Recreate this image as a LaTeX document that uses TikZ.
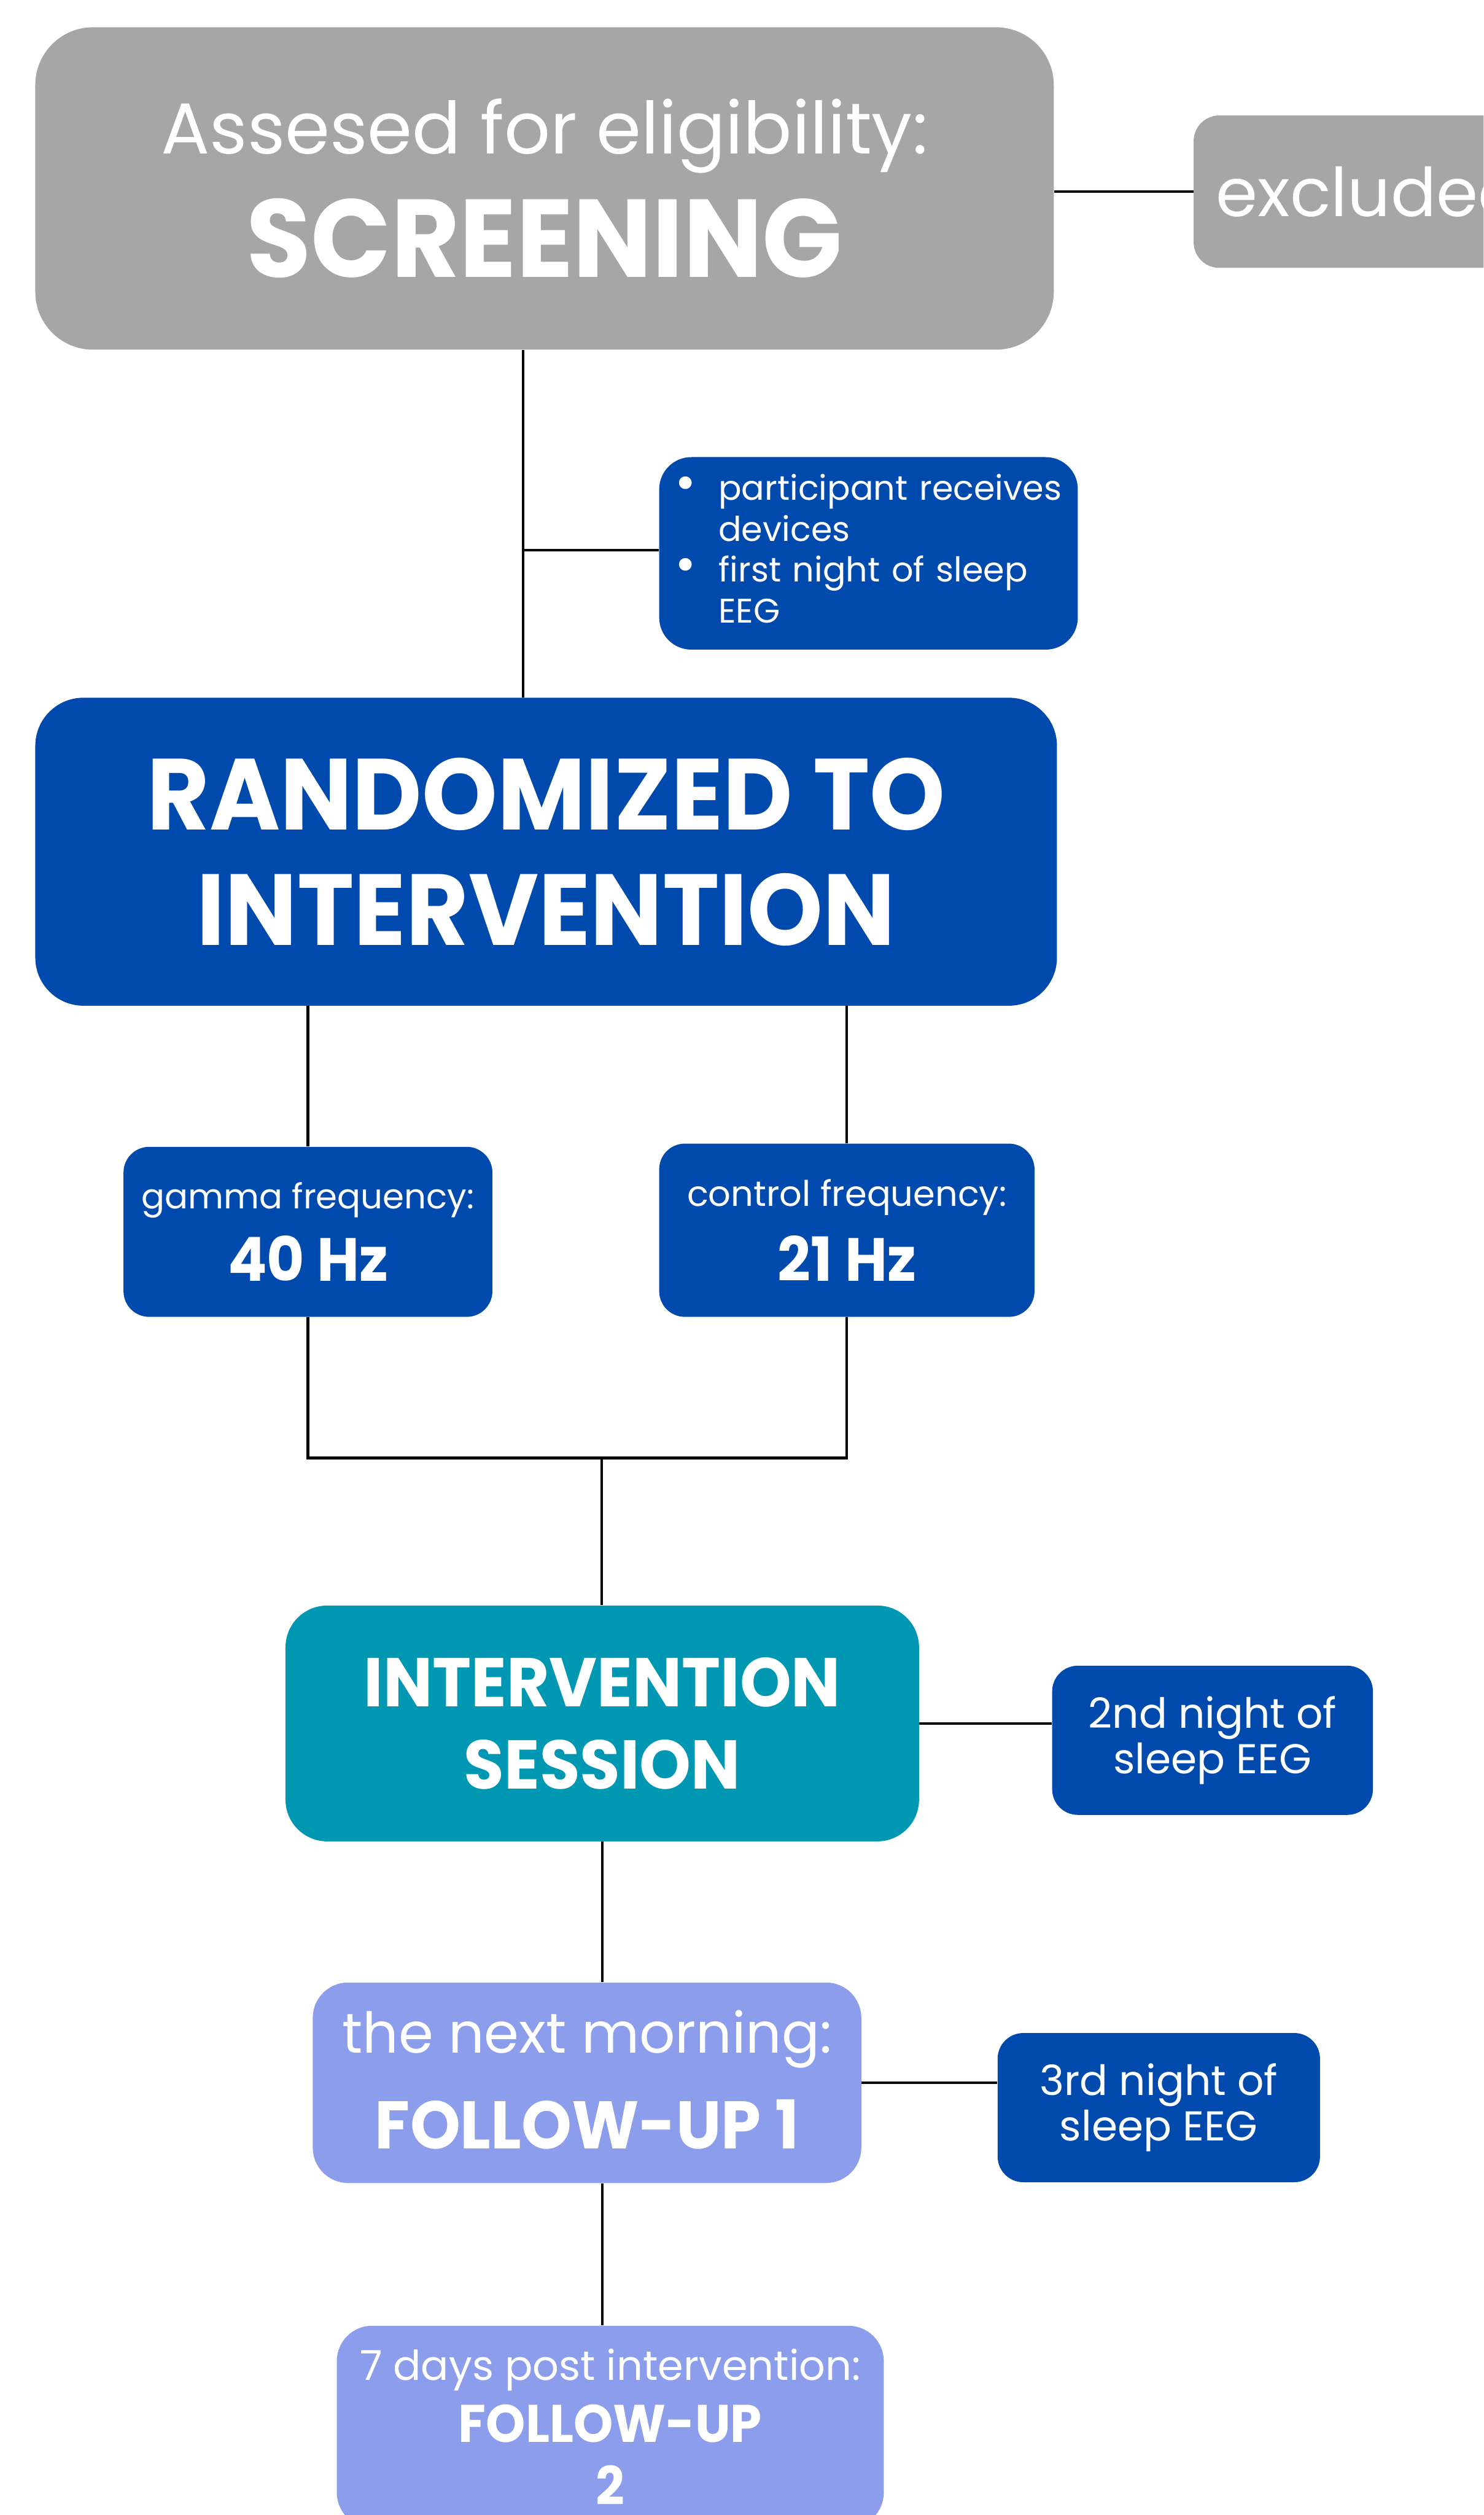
\documentclass[tikz,border=0pt]{standalone}
\usepackage{fontspec}
\setmainfont{Poppins}[BoldFeatures={FakeStretch=0.95}]
\usetikzlibrary{positioning}

\definecolor{screengray}{HTML}{A6A6A6}
\definecolor{studyblue}{HTML}{004AAD}
\definecolor{sessionteal}{HTML}{0097B2}
\definecolor{followlilac}{HTML}{8C9EEB}

\newcommand{\txtsize}[2]{\fontsize{#1pt}{#2pt}\selectfont}

\begin{document}
\begin{tikzpicture}[x=1pt, y=-1pt,
    stage/.style={text=white, align=center, inner sep=0pt, rounded corners=#1},
    stage/.default=20pt,
    greystage/.style={stage=#1, fill=screengray},
    bluestage/.style={stage=#1, fill=studyblue},
    tealstage/.style={stage=#1, fill=sessionteal},
    lilacstage/.style={stage=#1, fill=followlilac},
    link/.style={draw=black, line width=1.6pt}
    ]
    \useasboundingbox (0,0) rectangle (925,1568);
    \fill[white] (0,0) rectangle (925,1568);
    \clip (0,0) rectangle (925,1568);

    % screening
    \node[greystage=36pt, minimum width=635, minimum height=201, font=\txtsize{45}{78}] (screen) at (339.5,117.5)
        {\raisebox{-5pt}{Assesed for eligibility:}\\\txtsize{69}{78}\bfseries\raisebox{-4pt}{SCREENING}};
    \node[greystage=16pt, anchor=west, minimum width=220, minimum height=95,
        inner xsep=14pt, text width=192pt, align=left, font=\txtsize{42}{50}] (excluded) at (744,119.5)
        {excluded};
    \node[bluestage=20pt, minimum width=261, minimum height=120,
        inner xsep=10pt, text width=241pt, align=left, font=\txtsize{21.3}{25.5}] (notes) at (541.5,345)
        {\begin{tabular}{@{}p{27pt}@{}l@{}}
            {\txtsize{32}{25.5}\textbullet} & participant receives\\
                        & devices\\
            {\txtsize{32}{25.5}\textbullet} & first night of sleep\\
                        & EEG
        \end{tabular}};

    % randomisation
    \node[bluestage=30pt, minimum width=637, minimum height=192, font=\txtsize{63}{72}\bfseries] (random) at (340.5,531)
        {RANDOMIZED TO\\INTERVENTION};
    \node[bluestage=16pt, minimum width=230, minimum height=106, font=\txtsize{21.5}{45}] (gamma) at (192,768)
        {gamma frequency:\\\txtsize{38}{45}\bfseries 40 Hz};
    \node[bluestage=16pt, minimum width=234, minimum height=108, font=\txtsize{22}{46.5}] (control) at (528,767)
        {control frequency:\\\txtsize{38}{46.5}\bfseries 21 Hz};

    % session and follow-ups
    \node[tealstage=26pt, minimum width=395, minimum height=147, font=\txtsize{43}{51}\bfseries] (session) at (375.5,1074.5)
        {INTERVENTION\\SESSION};
    \node[bluestage=16pt, minimum width=200, minimum height=93, font=\txtsize{26}{28.5}] (night2) at (756,1085)
        {2nd night of\\sleep EEG};
    \node[lilacstage=22pt, minimum width=342, minimum height=125, font=\txtsize{35}{60}] (follow1) at (366,1298.5)
        {\raisebox{4pt}{the next morning:}\\\txtsize{42}{60}\bfseries\raisebox{4pt}{FOLLOW-UP 1}};
    \node[bluestage=16pt, minimum width=201, minimum height=93, font=\txtsize{26}{28.5}] (night3) at (722.5,1314)
        {3rd night of\\sleep EEG};
    \node[lilacstage=22pt, minimum width=341, minimum height=126, font=\txtsize{25.7}{39}] (follow2) at (380.5,1513)
        {7 days post intervention:\\\txtsize{33}{39}\bfseries FOLLOW-UP\\\txtsize{33}{39}\bfseries 2};

    \coordinate (split) at (326,343);
    \coordinate (merge) at (375,909);

    \draw[link] (screen.east |- excluded.west) -- (excluded.west);
    \draw[link] (screen.south -| split) -- (random.north -| split);
    \draw[link] (split) -- (split -| notes.west);
    \draw[link] (random.south -| gamma.north) -- (gamma.north);
    \draw[link] (random.south -| control.north) -- (control.north);
    \draw[link] (gamma.south) -- (gamma.south |- merge) -- (control.south |- merge) -- (control.south);
    \draw[link] (merge) -- (merge |- session.north);
    \draw[link] (session.east) -- (session.east -| night2.west);
    \draw[link] (session.south) -- (session.south |- follow1.north);
    \draw[link] (follow1.east) -- (follow1.east -| night3.west);
    \draw[link] (session.south |- follow1.south) -- (session.south |- follow2.north);
\end{tikzpicture}
\end{document}
